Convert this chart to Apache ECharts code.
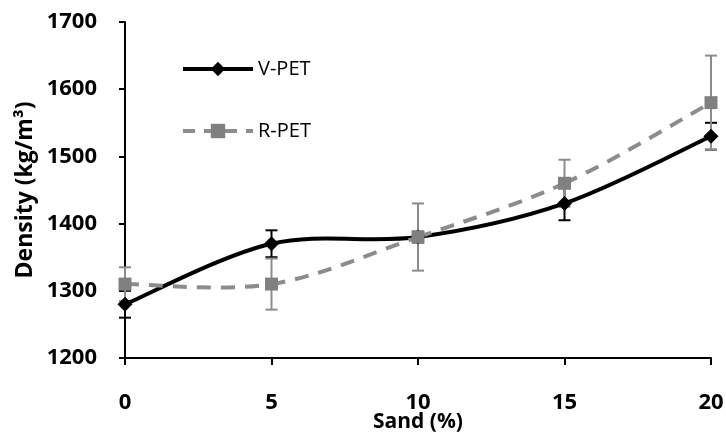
<!DOCTYPE html>
<html>
<head>
<meta charset="utf-8">
<script src="https://cdn.jsdelivr.net/npm/echarts@6/dist/echarts.min.js"></script>
<style>
  html, body { margin: 0; padding: 0; background: #ffffff; }
  #main { width: 726px; height: 433px; }
</style>
</head>
<body>
<div id="main"></div>
<script>
// sand content (%)
const sand = [0, 5, 10, 15, 20];
// density (kg/m3)
const vPet = [1280, 1370, 1380, 1430, 1530];
const rPet = [1310, 1310, 1380, 1460, 1580];
// error bars (+/-)
const vPetErr = [20, 20, 8, 25, 20];
const rPetErr = [25, 38, 50, 35, 70];

const FONT = 'Open Sans';
const BLACK = '#000000';
const GREY = '#8c8c8c';

function pairs(ys) {
  return sand.map((x, i) => [x, ys[i]]);
}
function errData(ys, errs) {
  return sand.map((x, i) => [x, ys[i] - errs[i], ys[i] + errs[i]]);
}

function errorBar(color) {
  return function (params, api) {
    const top = api.coord([api.value(0), api.value(2)]);
    const bot = api.coord([api.value(0), api.value(1)]);
    const w = 6;
    const style = { stroke: color, lineWidth: 2, fill: null };
    return {
      type: 'group',
      children: [
        { type: 'line', shape: { x1: top[0], y1: top[1], x2: bot[0], y2: bot[1] }, style: style },
        { type: 'line', shape: { x1: top[0] - w, y1: top[1], x2: top[0] + w, y2: top[1] }, style: style },
        { type: 'line', shape: { x1: bot[0] - w, y1: bot[1], x2: bot[0] + w, y2: bot[1] }, style: style }
      ]
    };
  };
}

// smoothed curve (spreadsheet-style Catmull-Rom) drawn segment by segment
function smoothCurve(ys, lineStyle) {
  return function (params, api) {
    const i = params.dataIndex;
    if (i >= sand.length - 1) return null;
    const p = j => api.coord([sand[Math.max(0, Math.min(sand.length - 1, j))],
                              ys[Math.max(0, Math.min(sand.length - 1, j))]]);
    const p0 = p(i - 1), p1 = p(i), p2 = p(i + 1), p3 = p(i + 2);
    return {
      type: 'bezierCurve',
      shape: {
        x1: p1[0], y1: p1[1],
        x2: p2[0], y2: p2[1],
        cpx1: p1[0] + (p2[0] - p0[0]) / 6, cpy1: p1[1] + (p2[1] - p0[1]) / 6,
        cpx2: p2[0] - (p3[0] - p1[0]) / 6, cpy2: p2[1] - (p3[1] - p1[1]) / 6
      },
      style: Object.assign({ fill: null }, lineStyle)
    };
  };
}

const chart = echarts.init(document.getElementById('main'));
chart.setOption({
  backgroundColor: '#ffffff',
  animation: false,
  grid: { left: 125, right: 15, top: 22, bottom: 75, containLabel: false, outerBoundsMode: 'none' },
  legend: {
    left: 176,
    top: 54,
    orient: 'vertical',
    itemWidth: 70,
    itemHeight: 18,
    itemGap: 42,
    textStyle: { fontFamily: FONT, fontSize: 20, color: '#000' },
    data: [
      { name: 'V-PET', lineStyle: { color: BLACK, width: 4, opacity: 1 } },
      { name: 'R-PET', lineStyle: { color: GREY, width: 4, opacity: 1, type: [12, 9] } }
    ]
  },
  xAxis: {
    type: 'value',
    min: 0,
    max: 20,
    interval: 5,
    name: 'Sand (%)',
    nameLocation: 'middle',
    nameGap: 54,
    nameMoveOverlap: false,
    nameTextStyle: { fontFamily: FONT, fontSize: 21, fontWeight: 'bold', color: '#000' },
    axisLine: { lineStyle: { color: '#000', width: 2 } },
    axisTick: { length: 7, lineStyle: { color: '#000', width: 2 } },
    axisLabel: { fontFamily: FONT, fontSize: 22, fontWeight: 'bold', color: '#000', margin: 34 },
    splitLine: { show: false }
  },
  yAxis: {
    type: 'value',
    min: 1200,
    max: 1700,
    interval: 100,
    name: 'Density (kg/m³)',
    nameLocation: 'middle',
    nameGap: 88,
    nameMoveOverlap: false,
    nameTextStyle: { fontFamily: FONT, fontSize: 23, fontWeight: 'bold', color: '#000' },
    axisLine: { lineStyle: { color: '#000', width: 2 } },
    axisTick: { length: 6, lineStyle: { color: '#000', width: 2 } },
    axisLabel: {
      fontFamily: FONT, fontSize: 22, fontWeight: 'bold', color: '#000', margin: 28,
      formatter: v => String(v)
    },
    splitLine: { show: false }
  },
  series: [
    {
      type: 'custom',
      name: 'V-PET err',
      renderItem: errorBar(BLACK),
      data: errData(vPet, vPetErr),
      z: 3
    },
    {
      type: 'custom',
      name: 'R-PET err',
      renderItem: errorBar(GREY),
      data: errData(rPet, rPetErr),
      z: 3
    },
    {
      type: 'custom',
      name: 'V-PET curve',
      renderItem: smoothCurve(vPet, { stroke: BLACK, lineWidth: 4 }),
      data: pairs(vPet),
      z: 4
    },
    {
      type: 'custom',
      name: 'R-PET curve',
      renderItem: smoothCurve(rPet, { stroke: GREY, lineWidth: 4, lineDash: [14, 10] }),
      data: pairs(rPet),
      z: 5
    },
    {
      type: 'line',
      name: 'V-PET',
      data: pairs(vPet),
      symbol: 'diamond',
      symbolSize: 15,
      itemStyle: { color: BLACK },
      lineStyle: { color: BLACK, width: 4, opacity: 0 },
      z: 6
    },
    {
      type: 'line',
      name: 'R-PET',
      data: pairs(rPet),
      symbol: 'rect',
      symbolSize: 13,
      itemStyle: { color: '#808080' },
      lineStyle: { color: GREY, width: 4, opacity: 0 },
      z: 7
    }
  ]
});
</script>
</body>
</html>
